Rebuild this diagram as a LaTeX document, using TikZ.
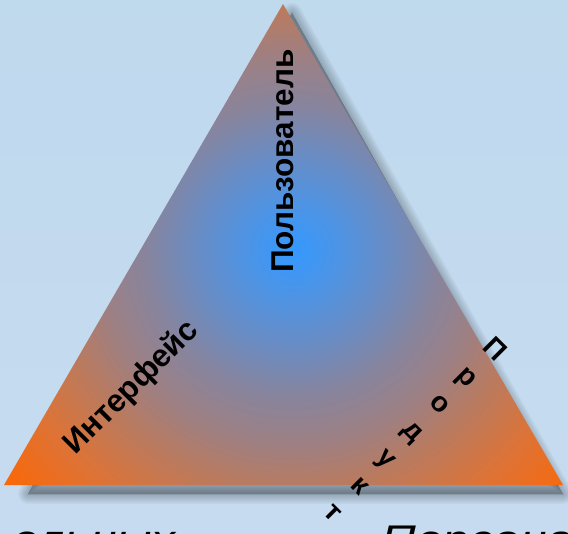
\documentclass[tikz,border=0pt]{standalone}
\usepackage{fontspec}
\setmainfont{Liberation Sans}
\pgfdeclareradialshading{trishade}{\pgfpoint{0bp}{0bp}}{%
 rgb(0bp)=(0.20,0.60,1.00);
 rgb(45bp)=(0.30,0.58,0.90);
 rgb(95bp)=(0.41,0.55,0.77);
 rgb(145bp)=(0.53,0.52,0.62);
 rgb(195bp)=(0.62,0.50,0.51);
 rgb(240bp)=(0.73,0.48,0.37);
 rgb(300bp)=(0.87,0.45,0.21);
 rgb(380bp)=(1.00,0.40,0.00)}
\definecolor{bgtop}{rgb}{0.75,0.85,0.93}
\definecolor{bgmid}{rgb}{0.87,0.92,0.96}
\definecolor{bgbot}{rgb}{0.78,0.86,0.94}
\tikzset{
  boldlabel/.style={font=\bfseries\fontsize{31.5bp}{36bp}\selectfont, inner sep=0pt, text=black},
  prodletter/.style={font=\bfseries\fontsize{28bp}{32bp}\selectfont, inner sep=0pt, rotate=-45,
     text height=1.6ex, text depth=0pt, text=black},
  bottomtext/.style={font=\itshape\fontsize{40bp}{48bp}\selectfont, inner sep=0pt, xscale=1.2, text=black},
  shadowlayer/.style={fill=black, draw=black, fill opacity=0.022, draw opacity=0.022, line join=round}
}
\begin{document}
\begin{tikzpicture}[x=1bp,y=-1bp]
\useasboundingbox (0,0) rectangle (568,534);
\clip (0,0) rectangle (568,534);
\shade[top color=bgtop, middle color=bgmid, bottom color=bgbot] (0,0) rectangle (568,534);
\coordinate (A) at (283,4);
\coordinate (B) at (4,485);
\coordinate (C) at (563,485);
\coordinate (O) at (292,250);
\foreach \w in {0,2,4,6,8,10,12,14,16,18,20} {
  \path[shadowlayer, line width=\w bp] ([shift={(9,9)}]A) -- ([shift={(24,9)}]B) -- ([shift={(0,9)}]C) -- cycle;
}
\begin{scope}
  \clip (A) -- (B) -- (C) -- cycle;
  \node[inner sep=0pt, outer sep=0pt] (grad) at (O) {\pgfuseshading{trishade}};
\end{scope}
\node[boldlabel, rotate=90] (user) at (283,161) {Пользователь};
\node[boldlabel, rotate=45] (iface) at (132,388) {Интерфейс};
\node[prodletter] (p1) at (492,353) {П};
\node[prodletter] (p2) at (465,380) {р};
\node[prodletter] (p3) at (438,407) {о};
\node[prodletter] (p4) at (411,434) {д};
\node[prodletter] (p5) at (384,461) {у};
\node[prodletter] (p6) at (357,488) {к};
\node[prodletter] (p7) at (330,515) {т};
\node[bottomtext, anchor=base east] (lefttext) at (176,553) {ельных};
\node[bottomtext, anchor=base west] (righttext) at (381,553) {Персона};
\end{tikzpicture}
\end{document}
